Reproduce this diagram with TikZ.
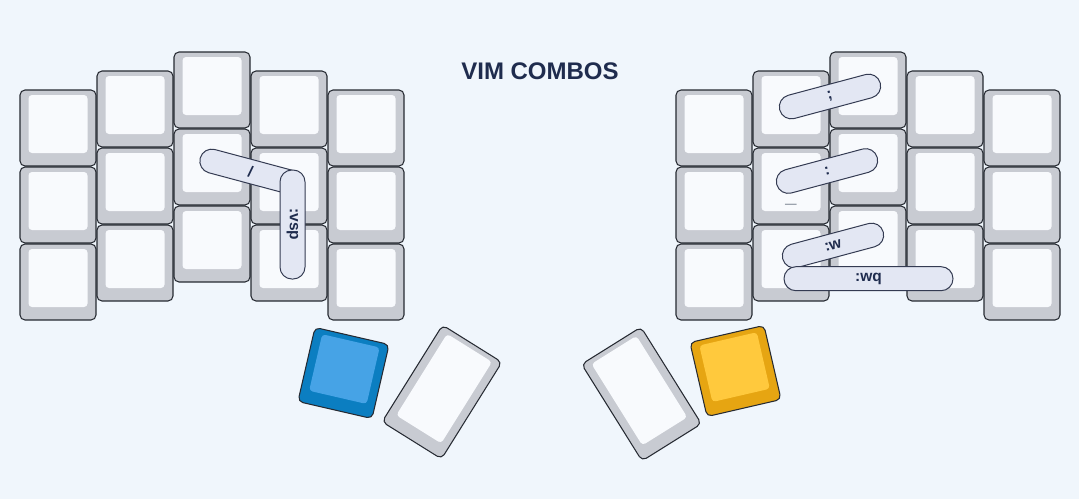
\documentclass[tikz,border=0pt]{standalone}
\usepackage{fontspec}
\setmainfont{Liberation Sans}
\definecolor{bg}{HTML}{F0F6FC}
\definecolor{capgrey}{HTML}{C8CBD2}
\definecolor{capwhite}{HTML}{F8FAFD}
\definecolor{edge}{HTML}{262A32}
\definecolor{blueout}{HTML}{0B7EC1}
\definecolor{bluein}{HTML}{46A3E6}
\definecolor{goldout}{HTML}{E6A512}
\definecolor{goldin}{HTML}{FFC93D}
\definecolor{pillfill}{HTML}{E3E7F3}
\definecolor{pilledge}{HTML}{343B52}
\definecolor{navy}{HTML}{1F2C4E}
\definecolor{glyphgray}{HTML}{9AA1AC}
\tikzset{
  capouter/.style={draw=edge, line width=1.05pt, rounded corners=5pt, inner sep=0pt, outer sep=0pt, transform shape},
  capinner/.style={rounded corners=3.5pt, inner sep=0pt, outer sep=0pt, transform shape},
  greycap/.style={capouter, fill=capgrey},
  greyin/.style={capinner, fill=capwhite},
  bluecap/.style={capouter, fill=blueout},
  bluetop/.style={capinner, fill=bluein},
  goldcap/.style={capouter, fill=goldout},
  goldtop/.style={capinner, fill=goldin},
  pill/.style={draw=pilledge, line width=1pt, fill=pillfill, rounded corners=11.9pt,
    minimum height=24pt, inner sep=0pt, text=navy, font=\fontsize{15.5}{16}\selectfont\bfseries},
}
% #1 outer style, #2 inner style, #3 name, #4 x, #5 y, #6 angle, #7 w, #8 h
\newcommand{\keycap}[8]{%
  \begin{scope}[shift={(#4,#5)}, rotate=#6]
    \pgfmathsetmacro\capiw{#7-17}%
    \pgfmathsetmacro\capih{#8-18}%
    \node[#1, minimum width=#7pt, minimum height=#8pt] (#3) at (0,0) {};
    \node[#2, minimum width=\capiw pt, minimum height=\capih pt] (#3i) at (0,-4) {};
  \end{scope}}
\begin{document}
\begin{tikzpicture}[x=1pt, y=-1pt]
\fill[bg] (0,0) rectangle (1079,499);
\useasboundingbox (0,0) rectangle (1079,499);

\node[font=\fontsize{24}{24}\selectfont\bfseries, text=navy] (title) at (540,71) {VIM COMBOS};

% left half
\foreach \c/\x/\y in {1/58/128, 2/135/109, 3/212/90, 4/289/109, 5/366/128}
  \foreach \r in {0,1,2}
    {\keycap{greycap}{greyin}{L\c\r}{\x}{\y+77*\r}{0}{76}{76}}
% right half
\foreach \c/\x/\y in {1/714/128, 2/791/109, 3/868/90, 4/945/109, 5/1022/128}
  \foreach \r in {0,1,2}
    {\keycap{greycap}{greyin}{R\c\r}{\x}{\y+77*\r}{0}{76}{76}}

% thumb keys
\keycap{bluecap}{bluetop}{TL1}{343.5}{373}{-13}{76}{76}
\keycap{greycap}{greyin}{TL2}{442}{392}{-32}{70}{114}
\keycap{greycap}{greyin}{TR2}{641.5}{394}{32}{70}{114}
\keycap{goldcap}{goldtop}{TR1}{735.5}{371}{13}{76}{76}

% key legend
\node[anchor=base, text=glyphgray, font=\fontsize{20}{20}\selectfont, inner sep=0pt] (uscore) at (791,201) {\_};

% combos left
\node[pill, minimum width=104pt, rotate=-15] (slash) at (250.5,171.5) {/};
\node[pill, minimum width=109pt, minimum height=25pt, rotate=-90] (vsp) at (292.5,224.5) {:vsp};

% combos right
\node[pill, minimum width=104pt, rotate=15] (semi) at (830,96.5) {;};
\node[pill, minimum width=104pt, rotate=15] (colon) at (827,171) {:};
\node[pill, minimum width=104pt, rotate=15] (w) at (833,245.5) {:w};
\node[pill, minimum width=169pt] (wq) at (868.5,278.7) {:wq};
\end{tikzpicture}
\end{document}
